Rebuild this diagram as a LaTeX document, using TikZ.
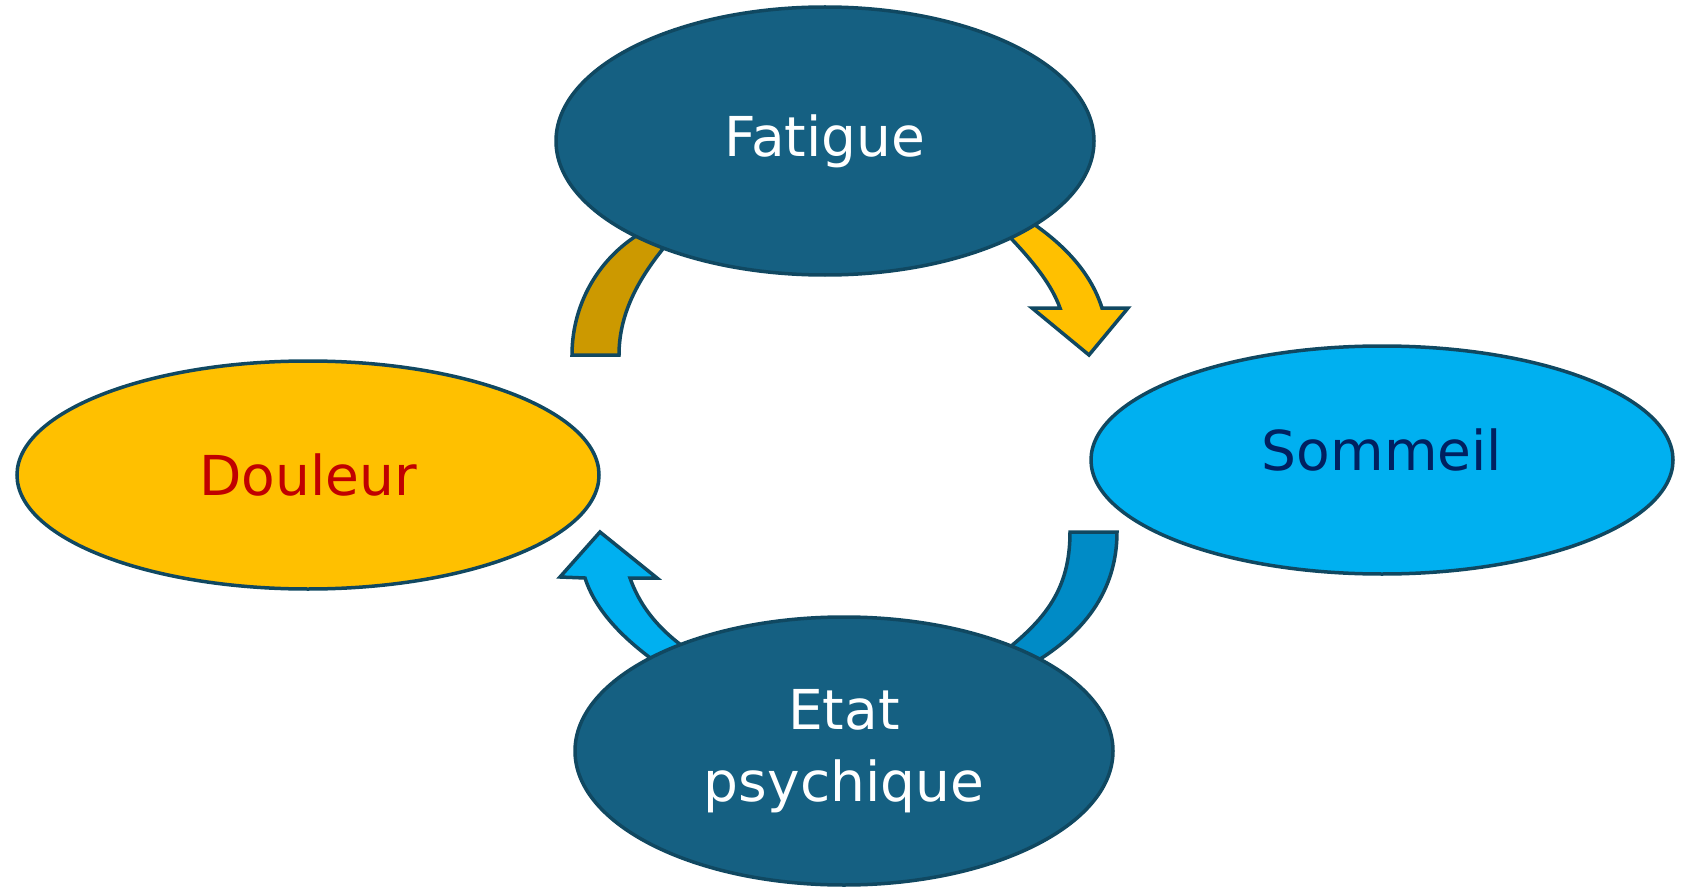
\documentclass[tikz,border=0pt]{standalone}
\usepackage{fontspec}
\setmainfont{DejaVu Sans}
\usetikzlibrary{shapes.geometric}
\definecolor{teal1}{HTML}{156082}
\definecolor{edge1}{HTML}{104861}
\definecolor{gold1}{HTML}{FFC000}
\definecolor{gold2}{HTML}{CC9900}
\definecolor{sky1}{HTML}{00B0F0}
\definecolor{sky2}{HTML}{008BC6}
\definecolor{red1}{HTML}{C00000}
\definecolor{navy1}{HTML}{002060}
\tikzset{
  bubble/.style={ellipse, draw=edge1, line width=1.75pt, inner sep=0pt,
    font=\fontsize{27.5}{36}\selectfont, align=center},
  bigb/.style={bubble, minimum width=291pt, minimum height=114pt},
  smallb/.style={bubble, minimum width=269pt, minimum height=134pt},
  blockarrow/.style={draw=edge1, line width=1.75pt, line join=miter},
}
\begin{document}
\begin{tikzpicture}[x=0.5pt,y=-0.5pt]
\useasboundingbox (0,0) rectangle (1683,888);
% arrows (drawn first, partly hidden by the bubbles)
\draw[blockarrow, fill=gold2] (572,355) .. controls (572,301) and (602,252) .. (650,228)
  -- (672,238) .. controls (640,275) and (619,312) .. (619,355) -- cycle;
\draw[blockarrow, fill=gold1] (995,222) .. controls (1025,252) and (1050,280) .. (1060,308)
  -- (1032,308) -- (1089,355) -- (1128,308) -- (1102,308)
  .. controls (1090,270) and (1060,240) .. (1020,215) -- cycle;
\draw[blockarrow, fill=sky2] (1070,532) -- (1117,532) .. controls (1117,590) and (1085,635) .. (1025,668)
  -- (1000,655) .. controls (1045,620) and (1070,590) .. (1070,532) -- cycle;
\draw[blockarrow, fill=sky1] (670,672) .. controls (630,645) and (597,615) .. (585,578)
  -- (560,577) -- (600,532) -- (657,578) -- (630,578)
  .. controls (642,612) and (665,635) .. (695,655) -- cycle;
% bubbles
\node[smallb, fill=teal1, text=white] (fatigue) at (825,141) {Fatigue};
\node[bigb, fill=gold1, text=red1] (douleur) at (308,475) {Douleur};
\node[bigb, fill=sky1, text=navy1] (sommeil) at (1382,460) {\raisebox{10pt}{Sommeil}};
\node[smallb, fill=teal1, text=white] (etat) at (844,751) {Etat\\psychique};
\end{tikzpicture}
\end{document}
